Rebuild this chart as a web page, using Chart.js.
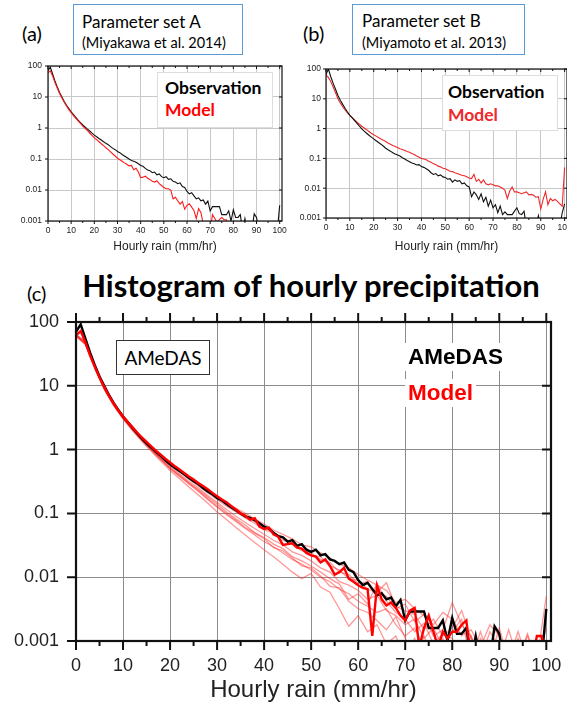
<!DOCTYPE html>
<html>
<head>
<meta charset="utf-8">
<script src="https://cdn.jsdelivr.net/npm/chart.js@4.4.1/dist/chart.umd.min.js"></script>
<style>
  body { margin: 0; background: #fff; width: 567px; height: 711px; position: relative; overflow: hidden; font-family: Lato, sans-serif; }
  .abs { position: absolute; white-space: nowrap; }
  canvas { position: absolute; }
</style>
</head>
<body>

<div class="abs" style="left:22px;top:21px;font-size:20px;line-height:24px;">(a)</div>
<div class="abs" style="left:73px;top:4px;width:168px;height:49px;border:1.5px solid #5b9bd5;"></div>
<div class="abs" style="left:82px;top:12px;font-size:17px;line-height:20px;">Parameter set A</div>
<div class="abs" style="left:82px;top:34px;font-size:14.5px;line-height:18px;">(Miyakawa et al. 2014)</div>

<div class="abs" style="left:303px;top:21px;font-size:20px;line-height:24px;">(b)</div>
<div class="abs" style="left:352px;top:4px;width:171px;height:49px;border:1.5px solid #5b9bd5;"></div>
<div class="abs" style="left:362px;top:11px;font-size:17px;line-height:20px;">Parameter set B</div>
<div class="abs" style="left:362px;top:34px;font-size:14.5px;line-height:18px;">(Miyamoto et al. 2013)</div>

<div class="abs" style="left:27px;top:281px;font-size:20px;line-height:24px;">(c)</div>
<div class="abs" style="left:0;width:622px;text-align:center;top:266px;font-size:31px;line-height:38px;font-weight:bold;">Histogram of hourly precipitation</div>

<canvas id="chartA" width="290" height="200" style="left:0;top:56px;"></canvas>
<canvas id="chartB" width="287" height="200" style="left:280px;top:56px;"></canvas>
<canvas id="chartC" width="567" height="411" style="left:0;top:300px;"></canvas>

<div class="abs" style="left:157px;top:72px;width:114px;height:54px;background:#fff;border:1px solid #ddd;"></div>
<div class="abs" style="left:165px;top:77px;font-size:17.5px;line-height:22px;font-weight:bold;color:#000;">Observation</div>
<div class="abs" style="left:165px;top:99px;font-size:17.5px;line-height:22px;font-weight:bold;color:#ff0000;">Model</div>

<div class="abs" style="left:442px;top:75px;width:114px;height:54px;background:#fff;border:1px solid #ddd;"></div>
<div class="abs" style="left:448px;top:81px;font-size:17.5px;line-height:22px;font-weight:bold;color:#000;">Observation</div>
<div class="abs" style="left:448px;top:104px;font-size:17.5px;line-height:22px;font-weight:bold;color:#ee2a2a;">Model</div>

<div class="abs" style="left:116px;top:340px;width:92px;height:33px;background:#fff;border:1px solid #333;font-size:19px;line-height:33px;text-align:center;">AMeDAS</div>

<div class="abs" style="left:405px;top:343px;padding:0 3px;background:#fff;font-family:'Liberation Sans';font-weight:bold;font-size:22.5px;line-height:28px;">AMeDAS</div>
<div class="abs" style="left:405px;top:379px;padding:0 3px;background:#fff;font-family:'Liberation Sans';font-weight:bold;font-size:22.5px;line-height:28px;color:#ff0000;">Model</div>

<script>
// hourly rain bins (mm/hr)
const rainBins = [
  0,1,2,3,4,5,6,7,8,9,
  10,11,12,13,14,15,16,17,18,19,
  20,21,22,23,24,25,26,27,28,29,
  30,31,32,33,34,35,36,37,38,39,
  40,41,42,43,44,45,46,47,48,49,
  50,51,52,53,54,55,56,57,58,59,
  60,61,62,63,64,65,66,67,68,69,
  70,71,72,73,74,75,76,77,78,79,
  80,81,82,83,84,85,86,87,88,89,
  90,91,92,93,94,95,96,97,98,99,
  100
];
const memberRain = [
  0,2,4,6,8,10,12,14,16,18,
  20,22,24,26,28,30,32,34,36,38,
  40,42,44,46,48,50,52,54,56,58,
  60,62,64,66,68,70,72,74,76,78,
  80,82,84,86,88,90,92,94,96,98,
  100
];
const rainTicks = [0,10,20,30,40,50,60,70,80,90,100];
const rainMinorTicks = [0,5,10,15,20,25,30,35,40,45,50,55,60,65,70,75,80,85,90,95,100];
const rateTicks = [0.001, 0.01, 0.1, 1, 10, 100];

// frequency (%) — 0.0005 marks empty bins (below axis)
const obsRain = [
  70,92,55,33,21,14,10,7.2,5.4,4.2,
  3.3,2.7,2.2,1.8,1.5,1.25,1.08,0.92,0.8,0.68,
  0.59,0.52,0.46,0.41,0.36,0.32,0.29,0.25,0.22,0.2,
  0.175,0.16,0.14,0.125,0.112,0.1,0.09,0.085,0.078,0.07,
  0.062,0.058,0.05,0.044,0.042,0.036,0.038,0.031,0.033,0.027,
  0.025,0.027,0.022,0.023,0.019,0.018,0.016,0.017,0.013,0.012,
  0.009,0.0075,0.0082,0.0065,0.0052,0.0056,0.0045,0.0048,0.0035,0.0044,
  0.0021,0.0029,0.0029,0.0029,0.0029,0.0016,0.0016,0.0016,0.0021,0.001,
  0.0023,0.0013,0.0013,0.0016,0.0005,0.0012,0.0005,0.0005,0.0005,0.0017,
  0.0013,0.0005,0.0005,0.0005,0.0005,0.0005,0.0005,0.0005,0.0005,0.0005,
  0.0032
];
const modelA = [
  60,70,47,29,19.5,13,9.3,6.8,5.1,3.9,
  3.1,2.5,2.05,1.7,1.4,1.15,0.97,0.82,0.69,0.58,
  0.48,0.42,0.36,0.31,0.27,0.23,0.2,0.17,0.145,0.125,
  0.105,0.095,0.085,0.075,0.068,0.06,0.062,0.045,0.05,0.038,
  0.025,0.026,0.028,0.024,0.022,0.019,0.018,0.02,0.016,0.014,
  0.012,0.011,0.011,0.01,0.0052,0.0058,0.0045,0.0035,0.0042,0.0024,
  0.0032,0.0036,0.0028,0.0022,0.0012,0.0025,0.0019,0.0008,0.0005,0.0005,
  0.0005,0.0016,0.0012,0.0009,0.0011,0.0013,0.0011,0.0011,0.0005,0.0005,
  0.0005,0.0005,0.0005,0.0005,0.0005,0.0005,0.0005,0.0005,0.0005,0.0005,
  0.0005,0.0005,0.0005,0.0005,0.0005,0.0005,0.0005,0.0005,0.0005,0.0005,
  0.0005
];
const obsB = [
  65,100,55,33,21,13,9,6.5,4.8,3.6,
  2.8,2.3,1.85,1.5,1.2,0.98,0.82,0.7,0.6,0.52,
  0.45,0.39,0.34,0.3,0.26,0.22,0.195,0.175,0.155,0.14,
  0.13,0.12,0.105,0.095,0.085,0.077,0.07,0.066,0.06,0.062,
  0.053,0.05,0.045,0.04,0.033,0.029,0.031,0.026,0.028,0.024,
  0.023,0.02,0.021,0.016,0.019,0.017,0.018,0.014,0.015,0.012,
  0.011,0.0052,0.0075,0.006,0.0042,0.0065,0.0035,0.005,0.0025,0.004,
  0.0022,0.0028,0.0015,0.0025,0.0013,0.0016,0.0013,0.0013,0.0013,0.0017,
  0.0022,0.0014,0.0013,0.0017,0.0005,0.0005,0.0005,0.0005,0.0005,0.0012,
  0.0005,0.0005,0.0005,0.0005,0.0005,0.0005,0.0005,0.0005,0.0005,0.0015,
  0.003
];
const modelB = [
  62,52,38,25,16,10,7.2,5.4,4.2,3.4,
  2.8,2.35,1.95,1.65,1.4,1.2,1.05,0.92,0.8,0.7,
  0.62,0.56,0.5,0.45,0.41,0.37,0.33,0.3,0.27,0.25,
  0.23,0.21,0.2,0.185,0.17,0.16,0.145,0.135,0.12,0.11,
  0.1,0.095,0.09,0.08,0.075,0.066,0.062,0.055,0.052,0.047,
  0.045,0.041,0.037,0.036,0.033,0.031,0.029,0.027,0.026,0.024,
  0.022,0.021,0.029,0.017,0.02,0.015,0.019,0.014,0.013,0.014,
  0.013,0.012,0.012,0.011,0.01,0.0085,0.0045,0.008,0.011,0.0075,
  0.0075,0.007,0.0065,0.007,0.0075,0.006,0.0062,0.0058,0.005,0.0052,
  0.002,0.0042,0.0076,0.0028,0.0045,0.0038,0.0042,0.0036,0.003,0.0025,
  0.05
];
const modelC = [
  62,72,48,30,20,13.5,9.6,7,5.3,4.1,
  3.3,2.7,2.25,1.85,1.55,1.32,1.12,0.96,0.83,0.72,
  0.63,0.55,0.49,0.43,0.38,0.34,0.3,0.27,0.24,0.21,
  0.185,0.165,0.15,0.13,0.115,0.1,0.092,0.08,0.084,0.062,
  0.057,0.06,0.047,0.043,0.032,0.033,0.034,0.029,0.028,0.024,
  0.022,0.021,0.017,0.019,0.015,0.011,0.012,0.014,0.0095,0.0085,
  0.0075,0.0068,0.0065,0.0012,0.0074,0.0045,0.0036,0.004,0.0033,0.0025,
  0.0021,0.003,0.0033,0.0008,0.0016,0.0025,0.0014,0.0008,0.0014,0.0011,
  0.0014,0.0014,0.0018,0.0021,0.0005,0.0005,0.0005,0.0005,0.0005,0.0005,
  0.0005,0.0005,0.0005,0.0005,0.0005,0.0005,0.0005,0.0005,0.0012,0.0012,
  0.0005
];

// ensemble members (every 2 mm/hr)
const member1 = [
  62,50,21,9.8,5.4,3.4,2.25,1.55,1.12,0.82,
  0.62,0.49,0.38,0.3,0.24,0.19,0.15,0.12,0.1,0.082,
  0.068,0.055,0.047,0.04,0.032,0.03,0.024,0.02,0.016,0.014,
  0.011,0.009,0.0075,0.0062,0.004,0.0045,0.0032,0.0025,0.0018,0.0028,
  0.0022,0.0012,0.0015,0.0008,0.0018,0.0012,0.0005,0.0014,0.0005,0.0005,
  0.0016
];
const member2 = [
  60,47,20,9.5,5.3,3.3,2.2,1.5,1.08,0.78,
  0.58,0.45,0.35,0.27,0.21,0.165,0.13,0.105,0.085,0.07,
  0.055,0.05,0.038,0.034,0.026,0.024,0.019,0.017,0.012,0.011,
  0.008,0.0085,0.0055,0.005,0.0032,0.0038,0.002,0.0026,0.0012,0.0015,
  0.004,0.0018,0.0012,0.0005,0.0014,0.0008,0.0005,0.0005,0.0012,0.0005,
  0.0005
];
const member3 = [
  63,46,19.5,9.2,5.1,3.2,2.1,1.45,1.03,0.74,
  0.55,0.42,0.32,0.25,0.19,0.15,0.115,0.09,0.072,0.058,
  0.047,0.038,0.032,0.025,0.022,0.018,0.014,0.012,0.0085,0.0075,
  0.0062,0.0045,0.0052,0.003,0.0025,0.0018,0.0022,0.0011,0.0016,0.0008,
  0.0014,0.0022,0.0005,0.0011,0.0005,0.0005,0.0015,0.0005,0.0005,0.0005,
  0.0005
];
const member4 = [
  61,45,19,9,5,3.1,2.05,1.4,0.98,0.7,
  0.5,0.38,0.29,0.22,0.165,0.125,0.095,0.075,0.058,0.046,
  0.036,0.03,0.024,0.019,0.016,0.013,0.01,0.0085,0.0065,0.0055,
  0.0042,0.0035,0.0028,0.0032,0.0018,0.0012,0.0016,0.0008,0.0005,0.0011,
  0.0005,0.0005,0.0012,0.0005,0.0005,0.0005,0.0005,0.0011,0.0005,0.0005,
  0.0005
];
const member5 = [
  60,44,18.5,8.8,4.9,3,1.98,1.35,0.94,0.66,
  0.47,0.35,0.26,0.195,0.145,0.105,0.08,0.06,0.046,0.035,
  0.027,0.021,0.016,0.012,0.0095,0.0115,0.007,0.0058,0.0032,0.0017,
  0.0025,0.0014,0.0018,0.0009,0.0012,0.0005,0.0011,0.0005,0.0005,0.0005,
  0.0005,0.0009,0.0005,0.0005,0.0005,0.0005,0.0005,0.0005,0.0005,0.0005,
  0.0005
];
const member6 = [
  62,46,19.2,9.1,5.05,3.15,2.08,1.42,1,0.72,
  0.52,0.4,0.3,0.235,0.18,0.14,0.105,0.082,0.066,0.05,
  0.042,0.033,0.028,0.021,0.018,0.015,0.012,0.0095,0.0078,0.0045,
  0.0055,0.0038,0.008,0.0042,0.0028,0.0022,0.0014,0.0019,0.0009,0.0013,
  0.0011,0.0005,0.0005,0.0014,0.0005,0.0005,0.0005,0.0005,0.0013,0.0005,
  0.005
];
const member7 = [
  64,49,20.5,9.7,5.35,3.35,2.22,1.52,1.1,0.8,
  0.6,0.47,0.36,0.28,0.22,0.175,0.14,0.112,0.09,0.075,
  0.06,0.05,0.042,0.034,0.028,0.022,0.021,0.015,0.013,0.0095,
  0.009,0.0065,0.0058,0.0082,0.0035,0.003,0.0026,0.0015,0.0022,0.0012,
  0.0016,0.003,0.0011,0.0005,0.0005,0.0016,0.0005,0.0005,0.0005,0.0009,
  0.0005
];
const member8 = [
  61,45.5,19.3,9,5,3.12,2.06,1.4,0.99,0.71,
  0.51,0.39,0.3,0.23,0.17,0.13,0.1,0.078,0.06,0.049,
  0.04,0.029,0.026,0.02,0.015,0.014,0.0105,0.0072,0.0068,0.0042,
  0.0032,0.0028,0.0021,0.0015,0.0024,0.0011,0.0005,0.0012,0.0005,0.0005,
  0.0005,0.0005,0.0005,0.0005,0.0005,0.0005,0.001,0.0005,0.0005,0.0005,
  0.0005
];
const members = [member1, member2, member3, member4, member5, member6, member7, member8];

// frame + tick marks drawn around the plot area
const frameTicks = {
  id: 'frameTicks',
  afterDraw(chart, args, o) {
    const { ctx, chartArea: a, scales: { x, y } } = chart;
    ctx.save();
    ctx.strokeStyle = '#111';
    ctx.lineWidth = o.tickWidth;
    ctx.beginPath();
    rainMinorTicks.forEach(v => {
      const px = x.getPixelForValue(v);
      const len = v % 10 === 0 ? o.major : o.minor;
      ctx.moveTo(px, a.bottom); ctx.lineTo(px, a.bottom + len);
      ctx.moveTo(px, a.top); ctx.lineTo(px, a.top + (o.topOut ? -len : len));
    });
    rateTicks.forEach(v => {
      const py = y.getPixelForValue(v);
      ctx.moveTo(a.left, py); ctx.lineTo(a.left - o.major, py);
      ctx.moveTo(a.right, py); ctx.lineTo(a.right - o.major, py);
    });
    ctx.stroke();
    ctx.lineWidth = o.frame;
    ctx.strokeRect(a.left, a.top, a.right - a.left, a.bottom - a.top);
    ctx.restore();
  }
};

function line(data, color, width) {
  return { data, borderColor: color, borderWidth: width, pointRadius: 0, tension: 0, fill: false };
}

function makeChart(id, datasets, g) {
  return new Chart(document.getElementById(id), {
    type: 'line',
    data: { labels: rainBins, datasets },
    options: {
      responsive: false,
      animation: false,
      layout: { padding: g.padding },
      plugins: {
        legend: { display: false },
        tooltip: { enabled: false },
        frameTicks: g.frame
      },
      scales: {
        x: {
          type: 'linear', min: 0, max: 101,
          afterBuildTicks: s => { s.ticks = rainTicks.map(v => ({ value: v })); },
          afterFit: s => { s.height = g.xHeight; s.paddingLeft = 0; s.paddingRight = 0; },
          grid: { color: g.gridColor, lineWidth: 1, drawTicks: false },
          border: { display: false },
          ticks: { padding: g.xPad, maxRotation: 0, color: '#222', font: { family: 'Liberation Sans', size: g.tickSize } },
          title: { display: true, text: 'Hourly rain (mm/hr)', color: '#222', padding: { top: 0, bottom: g.titlePad },
                   font: { family: 'Liberation Sans', size: g.titleSize, lineHeight: 1 } }
        },
        y: {
          type: 'logarithmic', min: 0.001, max: 100,
          afterBuildTicks: s => { s.ticks = rateTicks.map(v => ({ value: v })); },
          afterFit: s => { s.width = g.yWidth; s.paddingTop = 0; s.paddingBottom = 0; },
          grid: { color: g.gridColor, lineWidth: 1, drawTicks: false },
          border: { display: false },
          ticks: { padding: g.yPad, color: '#222', font: { family: 'Liberation Sans', size: g.tickSize },
                   callback: v => String(v) }
        }
      }
    },
    plugins: [frameTicks]
  });
}

makeChart('chartA', [
  line(modelA, '#ff1a1a', 1.1),
  line(obsRain, '#111', 1.1)
], {
  padding: { top: 10, right: 8, left: 0, bottom: 0 },
  xHeight: 35, yWidth: 48, xPad: 5, yPad: 6, tickSize: 8.5, titleSize: 12, titlePad: 3,
  gridColor: '#c8c8c8',
  frame: { frame: 1.2, tickWidth: 1, major: 3, minor: 2, topOut: false }
});

makeChart('chartB', [
  line(obsB, '#111', 1.1),
  line(modelB, '#ee2a2a', 1.1)
], {
  padding: { top: 13, right: 0, left: 0, bottom: 0 },
  xHeight: 38, yWidth: 46, xPad: 5, yPad: 5, tickSize: 8.5, titleSize: 12, titlePad: 3,
  gridColor: '#c8c8c8',
  frame: { frame: 1.2, tickWidth: 1, major: 3, minor: 2, topOut: false }
});

makeChart('chartC', [
  line(modelC, '#ff0000', 2.4),
  line(obsRain, '#000', 2.4),
  ...members.map(m => line(memberRain.map((x, i) => ({ x, y: m[i] })), 'rgba(255,40,40,0.48)', 1.3))
], {
  padding: { top: 22, right: 16, left: 0, bottom: 0 },
  xHeight: 70, yWidth: 76, xPad: 14, yPad: 17, tickSize: 18, titleSize: 24, titlePad: 9,
  gridColor: '#8c8c8c',
  frame: { frame: 2.2, tickWidth: 2, major: 9, minor: 5, topOut: true }
});
</script>
</body>
</html>
